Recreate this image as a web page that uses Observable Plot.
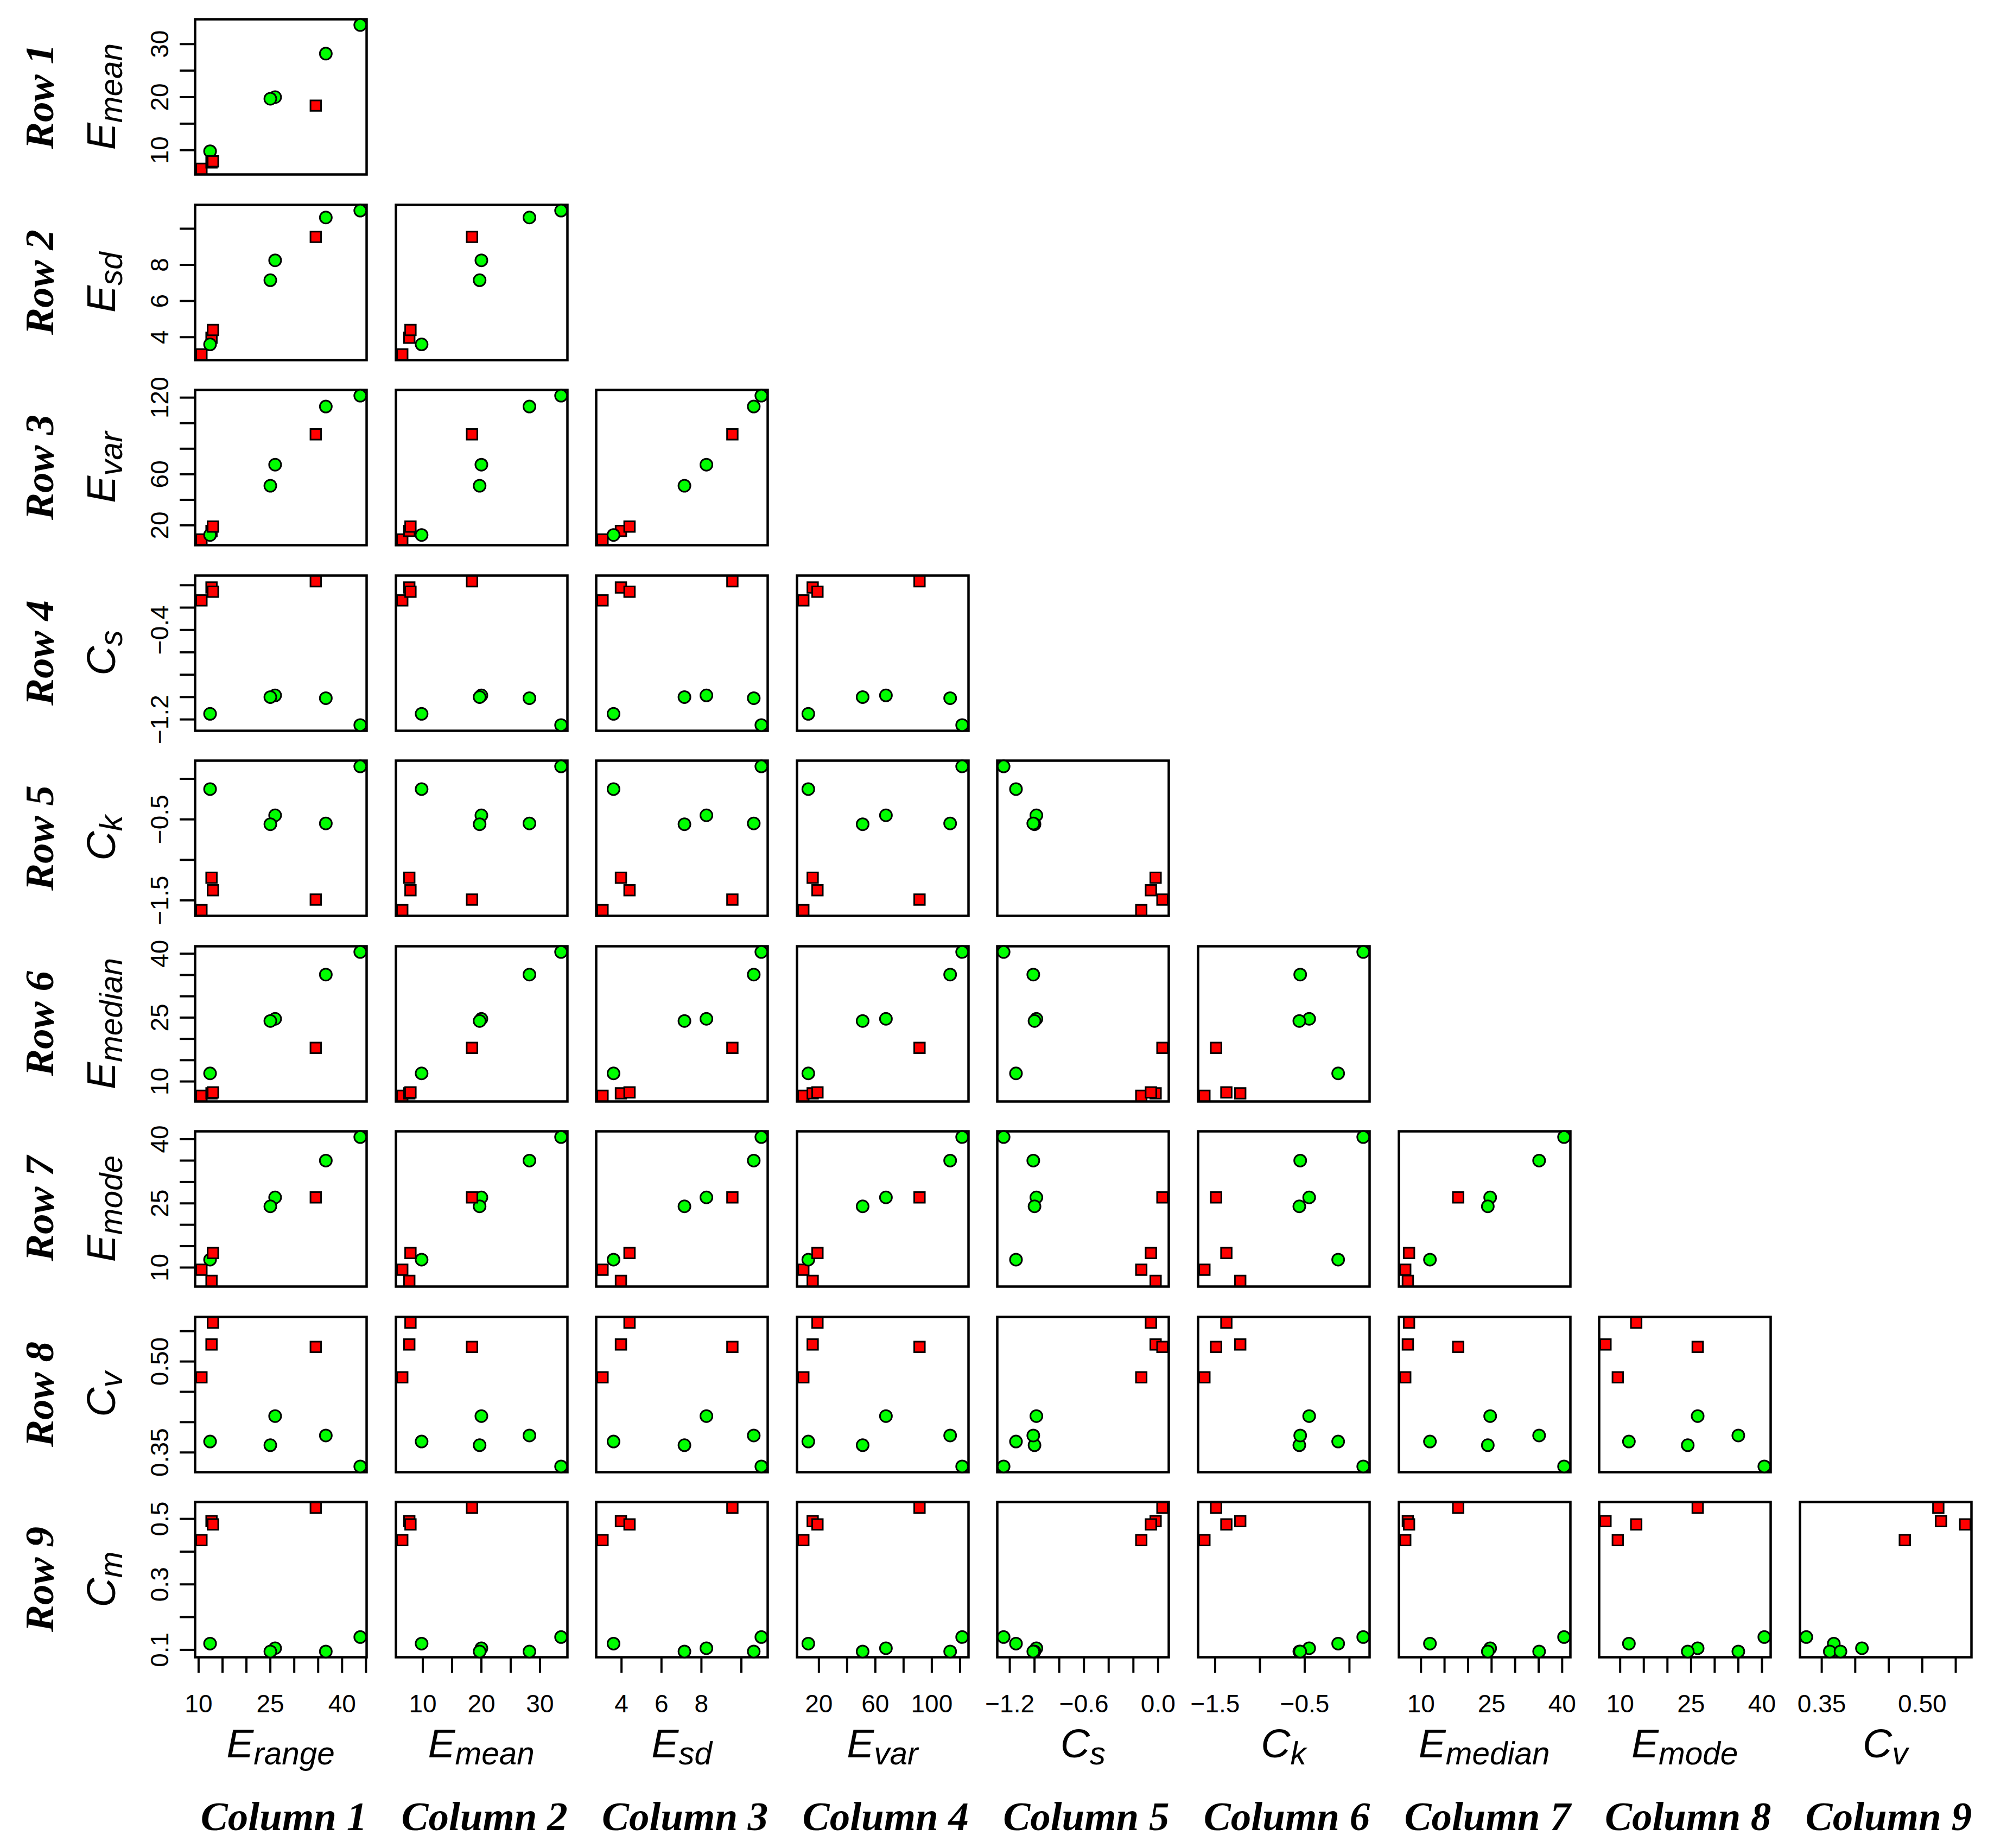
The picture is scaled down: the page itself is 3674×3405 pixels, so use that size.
<!DOCTYPE html>
<html><head><meta charset="utf-8">
<script src="https://cdn.jsdelivr.net/npm/d3@7"></script>
<script src="https://cdn.jsdelivr.net/npm/@observablehq/plot@0.6"></script>
<style>
html,body{margin:0;padding:0;background:#fff;}
#root{position:relative;width:3674px;height:3405px;background:#fff;overflow:hidden;}
.lbl{position:absolute;white-space:nowrap;line-height:1;transform:translate(-50%,-50%);color:#000;}
.var{font-family:"Liberation Sans",Arial,sans-serif;font-style:italic;font-size:75px;}
.var sub{font-size:0.78em;vertical-align:baseline;position:relative;top:0.22em;}
.rc{font-family:"Liberation Serif","Times New Roman",serif;font-style:italic;font-weight:bold;font-size:75px;}
.rot{transform:translate(-50%,-50%) rotate(-90deg);}
.panel{position:absolute;}
.panel svg{max-width:none !important;display:block;}
</style></head><body><div id="root"></div>
<script>
// ---- data (order of drawing) ----
const group    = ["R","R","G","R","G","G","R","G","G"];
const E_range  = [10.6, 12.7, 12.4, 13.0, 26.0, 25.0, 34.5, 36.6, 43.8];
const E_mean   = [6.5, 7.7, 9.8, 7.9, 20.0, 19.7, 18.4, 28.2, 33.6];
const E_sd     = [3.05, 3.97, 3.6, 4.4, 8.25, 7.15, 9.55, 10.62, 11.0];
const E_var    = [9.0, 15.6, 12.5, 19.0, 67.5, 51.0, 91.3, 113.0, 121.5];
const C_s      = [-0.136, -0.02, -1.15, -0.058, -0.985, -1.0, 0.035, -1.01, -1.25];
const C_k      = [-1.62, -1.22, -0.126, -1.375, -0.45, -0.56, -1.49, -0.55, 0.154];
const E_median = [6.65, 7.2, 11.9, 7.45, 24.7, 24.2, 17.9, 35.1, 40.4];
const E_mode   = [9.5, 6.9, 11.85, 13.4, 26.4, 24.3, 26.4, 35.0, 40.5];
const C_v      = [0.474, 0.528, 0.368, 0.564, 0.41, 0.362, 0.524, 0.378, 0.327];
const C_m      = [0.435, 0.493, 0.119, 0.483, 0.105, 0.095, 0.534, 0.095, 0.139];

const colVars = ["E_range","E_mean","E_sd","E_var","C_s","C_k","E_median","E_mode","C_v"];
const rowVars = ["E_mean","E_sd","E_var","C_s","C_k","E_median","E_mode","C_v","C_m"];

// tick marks and labelled ticks
const ticks_E_range  = [10,15,20,25,30,35,40,45];
const ticks_E_mean   = [10,15,20,25,30];
const ticks_E_sd     = [4,6,8,10];
const ticks_E_var    = [20,40,60,80,100,120];
const ticks_C_s      = [-1.2,-1.0,-0.8,-0.6,-0.4,-0.2,0.0];
const ticks_C_k      = [-1.5,-1.0,-0.5,0.0];
const ticks_E_median = [10,15,20,25,30,35,40];
const ticks_E_mode   = [10,15,20,25,30,35,40];
const ticks_C_v      = [0.35,0.40,0.45,0.50,0.55];
const ticks_C_m      = [0.1,0.2,0.3,0.4,0.5];

const xlab_E_range = [10,25,40], xlab_E_mean = [10,20,30], xlab_E_sd = [4,6,8], xlab_E_var = [20,60,100],
      xlab_C_s = [-1.2,-0.6,0.0], xlab_C_k = [-1.5,-0.5], xlab_E_median = [10,25,40], xlab_E_mode = [10,25,40],
      xlab_C_v = [0.35,0.50];
const ylab_E_mean = [10,20,30], ylab_E_sd = [4,6,8], ylab_E_var = [20,60,120], ylab_C_s = [-0.4,-1.2],
      ylab_C_k = [-0.5,-1.5], ylab_E_median = [10,25,40], ylab_E_mode = [10,25,40], ylab_C_v = [0.35,0.50],
      ylab_C_m = [0.1,0.3,0.5];

const names = {E_range:["E","range"],E_mean:["E","mean"],E_sd:["E","sd"],E_var:["E","var"],C_s:["C","s"],
  C_k:["C","k"],E_median:["E","median"],E_mode:["E","mode"],C_v:["C","v"],C_m:["C","m"]};
const decimals = {E_range:0,E_mean:0,E_sd:0,E_var:0,C_s:1,C_k:1,E_median:0,E_mode:0,C_v:2,C_m:1};

const vals = {E_range,E_mean,E_sd,E_var,C_s,C_k,E_median,E_mode,C_v,C_m};
const ticks = {E_range:ticks_E_range,E_mean:ticks_E_mean,E_sd:ticks_E_sd,E_var:ticks_E_var,C_s:ticks_C_s,
  C_k:ticks_C_k,E_median:ticks_E_median,E_mode:ticks_E_mode,C_v:ticks_C_v,C_m:ticks_C_m};
const xlabs = {E_range:xlab_E_range,E_mean:xlab_E_mean,E_sd:xlab_E_sd,E_var:xlab_E_var,C_s:xlab_C_s,
  C_k:xlab_C_k,E_median:xlab_E_median,E_mode:xlab_E_mode,C_v:xlab_C_v};
const ylabs = {E_mean:ylab_E_mean,E_sd:ylab_E_sd,E_var:ylab_E_var,C_s:ylab_C_s,C_k:ylab_C_k,
  E_median:ylab_E_median,E_mode:ylab_E_mode,C_v:ylab_C_v,C_m:ylab_C_m};

// ---- layout ----
const P0x = 359, PDx = 369.6, P0y = 35, PDy = 341.5, PW = 316, PH = 286;
const root = document.getElementById("root");

function dom(v) {
  const [a, b] = d3.extent(vals[v]); const p = (b - a) * 0.04; return [a - p, b + p];
}
function fmt(v) {
  const k = decimals[v];
  return d => { const s = Math.abs(d).toFixed(k); return (d < 0 && Math.abs(d) > 1e-9 ? "\u2212" : "") + s; };
}
function hasLabel(arr, d) { return arr.some(a => Math.abs(a - d) < 1e-9); }

for (let i = 0; i < 9; i++) {
  for (let j = 0; j <= i; j++) {
    const xv = colVars[j], yv = rowVars[i];
    const left = j === 0, bottom = i === 8;
    const ml = left ? 130 : 16, mr = 16, mt = 16, mb = bottom ? 130 : 16;
    const data = group.map((g, k) => ({x: vals[xv][k], y: vals[yv][k], g}));
    const marks = [
      Plot.frame({stroke: "black", strokeWidth: 4.5}),
      Plot.dot(data, {x: "x", y: "y", symbol: "g", fill: "g", stroke: "black", strokeWidth: 3, r: 11})
    ];
    if (left) {
      const fy = fmt(yv);
      marks.push(Plot.axisY(ticks[yv], {anchor: "left", tickSize: 28, tickPadding: 22, tickRotate: -90,
        strokeWidth: 4, fontSize: 46, label: null,
        tickFormat: d => hasLabel(ylabs[yv], d) ? fy(d) : ""}));
    }
    if (bottom) {
      const fx = fmt(xv);
      marks.push(Plot.axisX(ticks[xv], {anchor: "bottom", tickSize: 29, tickPadding: 40,
        strokeWidth: 4, fontSize: 46, label: null,
        tickFormat: d => hasLabel(xlabs[xv], d) ? fx(d) : ""}));
    }
    const svg = Plot.plot({
      width: PW + ml + mr, height: PH + mt + mb,
      marginLeft: ml, marginRight: mr, marginTop: mt, marginBottom: mb,
      style: {fontFamily: "'Liberation Sans', Arial, sans-serif", fontSize: "46px", color: "black", background: "transparent", overflow: "visible"},
      x: {domain: dom(xv), axis: null},
      y: {domain: dom(yv), axis: null},
      symbol: {domain: ["R","G"], range: ["square","circle"]},
      color: {domain: ["R","G"], range: ["#ff0000","#00ff00"]},
      marks
    });
    svg.style.maxWidth = "none";
    const div = document.createElement("div");
    div.className = "panel";
    div.style.left = (P0x + j * PDx - ml) + "px";
    div.style.top = (P0y + i * PDy - mt) + "px";
    div.appendChild(svg);
    root.appendChild(div);
  }
}

function addLabel(html, cls, cx, cy) {
  const el = document.createElement("div");
  el.className = "lbl " + cls;
  el.innerHTML = html;
  el.style.left = cx + "px";
  el.style.top = cy + "px";
  root.appendChild(el);
}
function varHtml(v) { const [m, s] = names[v]; return `${m}<sub>${s}</sub>`; }

for (let i = 0; i < 9; i++) {
  const cy = P0y + i * PDy + PH / 2;
  addLabel(`Row ${i + 1}`, "rc rot", 72, cy);
  addLabel(varHtml(rowVars[i]), "var rot", 186, cy);
}
for (let j = 0; j < 9; j++) {
  const cx = P0x + j * PDx + PW / 2;
  addLabel(varHtml(colVars[j]), "var", cx, 3212);
  addLabel(`Column ${j + 1}`, "rc", cx + 6, 3346);
}
</script></body></html>
